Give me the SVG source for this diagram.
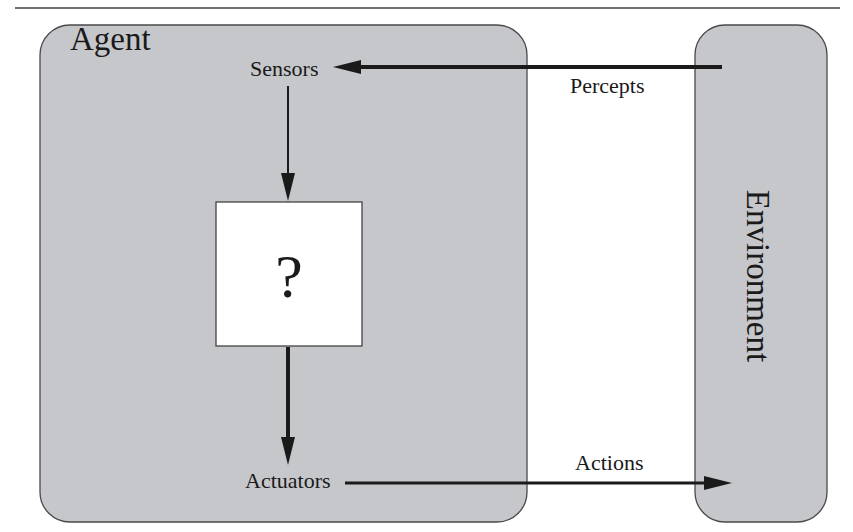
<svg xmlns="http://www.w3.org/2000/svg" width="853" height="532" viewBox="0 0 853 532">
  <style>
    .panel { fill: #c6c7cb; stroke: #4a4a4a; stroke-width: 1.3; }
    .box { fill: #ffffff; stroke: #444444; stroke-width: 1.3; }
    .lbl { fill: #1a1a1a; }
    .wire { stroke: #1a1a1a; fill: none; marker-end: url(#head); }
  </style>
  <defs>
    <marker id="head" viewBox="0 -7 28 14" refX="0" refY="0" markerWidth="28" markerHeight="14" markerUnits="userSpaceOnUse" orient="auto">
      <path d="M0,-7 L28,0 L0,7 Z" fill="#1a1a1a"/>
    </marker>
  </defs>

  <rect x="0" y="0" width="853" height="532" fill="#ffffff"/>
  <!-- rule above the figure -->
  <line x1="15" y1="8" x2="840" y2="8" stroke="#444444" stroke-width="1.5"/>

  <g id="agent">
    <rect class="panel" x="40" y="25" width="487" height="497" rx="30" ry="30"/>
    <text class="lbl" font-family="Liberation Serif, serif" x="70" y="50" font-size="33">Agent</text>
  </g>

  <g id="environment">
    <rect class="panel" x="695" y="25" width="132" height="497" rx="30" ry="30"/>
    <text class="lbl" font-family="Liberation Serif, serif" x="0" y="0" font-size="33" text-anchor="middle" transform="translate(747,276) rotate(90)">Environment</text>
  </g>

  <g id="sensors">
    <text class="lbl" font-family="Liberation Serif, serif" x="250" y="76" font-size="22">Sensors</text>
  </g>

  <g id="actuators">
    <text class="lbl" font-family="Liberation Serif, serif" x="245" y="488" font-size="22">Actuators</text>
  </g>

  <g id="program">
    <rect class="box" x="216" y="202" width="146" height="144"/>
    <text class="lbl" font-family="Liberation Serif, serif" x="289" y="297" font-size="62" text-anchor="middle">?</text>
  </g>

  <g id="connectors">
    <line class="wire" x1="722" y1="67" x2="361" y2="67" stroke-width="4"/>
    <text class="lbl" font-family="Liberation Serif, serif" x="570" y="93" font-size="22">Percepts</text>
    <line class="wire" x1="288" y1="86" x2="288" y2="173" stroke-width="2"/>
    <line class="wire" x1="288" y1="347" x2="288" y2="437" stroke-width="4"/>
    <line class="wire" x1="345" y1="483" x2="704" y2="483" stroke-width="3"/>
    <text class="lbl" font-family="Liberation Serif, serif" x="575" y="470" font-size="22">Actions</text>
  </g>
</svg>
